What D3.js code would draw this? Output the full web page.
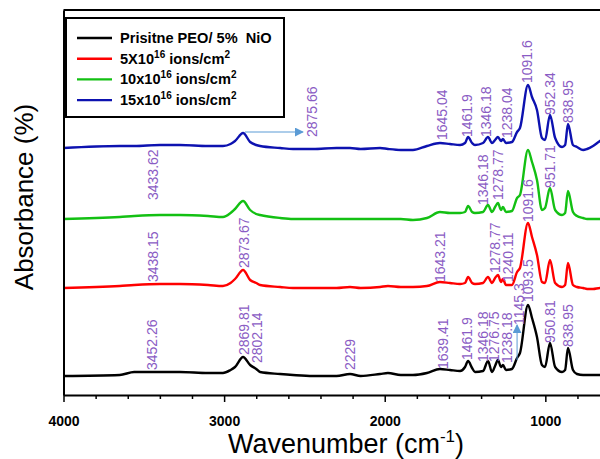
<!DOCTYPE html>
<html>
<head>
<meta charset="utf-8">
<script src="https://cdn.jsdelivr.net/npm/d3@7"></script>
<style>
body{margin:0;background:#fff;}
text{font-family:"Liberation Sans",Arial,sans-serif;}
</style>
</head>
<body>
<script>
// wavenumber grid shared by all four spectra (cm-1)
var wavenumbers = [4000,3650,3560,3400,3275,3100,3007,2960,2932,2882,2838,2800,2776,2651,2571,2447,2300,2216,2150,2029,
  1980,1900,1824,1737,1656,1594,1531,1500,1481,1456,1438,1388,1357,1332,1313,1295,1276,1264,1245,1208,
  1176,1158,1108,1083,1052,1021,1002,971,939,896,877,859,828,803,765,740,703,660,560];

var pristine = [0.19,0.20,0.23,0.23,0.23,0.22,0.22,0.25,0.28,0.38,0.30,0.26,0.23,0.21,0.20,0.19,0.19,0.21,0.19,0.21,
  0.22,0.20,0.20,0.22,0.26,0.25,0.24,0.28,0.34,0.27,0.23,0.24,0.34,0.23,0.29,0.35,0.28,0.30,0.25,0.26,
  0.37,0.42,0.90,0.77,0.58,0.30,0.28,0.52,0.28,0.23,0.25,0.47,0.25,0.21,0.20,0.20,0.20,0.20,0.20];
var dose5 = [1.07,1.09,1.10,1.11,1.11,1.10,1.09,1.12,1.16,1.25,1.15,1.12,1.10,1.08,1.07,1.07,1.07,1.08,1.07,1.08,
  1.09,1.08,1.08,1.09,1.13,1.12,1.11,1.12,1.18,1.12,1.11,1.12,1.18,1.12,1.17,1.20,1.13,1.16,1.10,1.10,
  1.23,1.27,1.72,1.58,1.40,1.13,1.12,1.35,1.12,1.08,1.10,1.32,1.10,1.08,1.07,1.06,1.06,1.07,1.07];
var dose10 = [1.76,1.78,1.79,1.80,1.80,1.79,1.78,1.82,1.86,1.94,1.85,1.81,1.80,1.77,1.76,1.76,1.76,1.76,1.76,1.76,
  1.76,1.76,1.75,1.77,1.83,1.82,1.82,1.83,1.89,1.83,1.82,1.83,1.90,1.83,1.88,1.92,1.85,1.88,1.83,1.84,
  1.97,2.00,2.45,2.33,2.15,1.85,1.87,2.07,1.85,1.80,1.82,2.04,1.83,1.79,1.77,1.76,1.76,1.76,1.76];
var dose15 = [2.47,2.49,2.49,2.50,2.50,2.49,2.49,2.51,2.54,2.62,2.53,2.50,2.49,2.47,2.46,2.46,2.47,2.47,2.46,2.47,
  2.46,2.45,2.45,2.49,2.52,2.51,2.50,2.52,2.58,2.52,2.50,2.52,2.58,2.52,2.55,2.58,2.54,2.56,2.52,2.53,
  2.63,2.67,3.10,2.98,2.85,2.57,2.55,2.80,2.57,2.48,2.50,2.71,2.50,2.48,2.45,2.46,2.49,2.54,2.60];

var seriesColors = ["#000000","#ff0000","#13c013","#0d12b0"];
// legend text: parts alternate normal / superscript
var legendText = [
  ["Prisitne PEO/ 5%\u00a0 NiO"],
  ["5X10","16"," ions/cm","2"],
  ["10x10","16"," ions/cm","2"],
  ["15x10","16"," ions/cm","2"]
];

var majorTicks = [4000,3000,2000,1000];
var minorTicks = [3800,3600,3400,3200,2800,2600,2400,2200,1800,1600,1400,1200,800,600];

// peak labels: [text, wavenumber position, absorbance at bottom of text]
var labelsPristine = [["3452.26",3449,0.25],["2869.81",2876,0.40],["2802.14",2795,0.32],["2229",2216,0.25],
  ["1639.41",1637,0.26],["1461.9",1487,0.35],["1346.18",1387,0.33],["1276.75",1320,0.33],["1238.18",1239,0.32],
  ["1145.3",1164,0.70],["1093.5",1108,0.93],["950.81",971,0.52],["838.95",859,0.48]];
var labels5 = [["3438.15",3443,1.13],["2873.67",2876,1.27],["1643.21",1656,1.13],["1278.77",1313,1.22],
  ["1240.11",1232,1.13],["1091.6",1108,1.73]];
var labels10 = [["3433.62",3443,1.95],["1346.18",1387,1.90],["1278.77",1295,1.95],["951.71",971,2.07]];
var labels15 = [["2875.66",2453,2.58],["1645.04",1643,2.55],["1461.9",1487,2.58],["1346.18",1369,2.58],
  ["1238.04",1239,2.57],["1091.6",1114,3.12],["952.34",971,2.80],["838.95",859,2.72]];
// arrows: [w1, a1, w2, a2]
var arrows = [[2870,2.63,2509,2.63],[1176,0.35,1176,0.70]];

var W = 600, H = 459;
var x = d3.scaleLinear().domain([4000,400]).range([63.5,641.7]);
var y = d3.scaleLinear().domain([0,3.85]).range([395,10]);

var svg = d3.select("body").append("svg").attr("width",W).attr("height",H);

svg.append("defs").append("marker")
  .attr("id","arr").attr("viewBox","0 0 10 10").attr("refX",9).attr("refY",5)
  .attr("markerWidth",9).attr("markerHeight",9).attr("orient","auto").attr("markerUnits","userSpaceOnUse")
  .append("path").attr("d","M0,0 L10,5 L0,10 Z").attr("fill","#5b9bd5");

var line = d3.line()
  .x(function(d){ return x(d[0]); })
  .y(function(d){ return y(d[1]); })
  .curve(d3.curveMonotoneX);

var allSeries = [pristine,dose5,dose10,dose15];
allSeries.forEach(function(vals,i){
  svg.append("path")
    .datum(wavenumbers.map(function(w,j){ return [w,vals[j]]; }))
    .attr("fill","none")
    .attr("stroke",seriesColors[i])
    .attr("stroke-width",2.4)
    .attr("stroke-linejoin","round")
    .attr("d",line);
});

// peak labels
var allLabels = [].concat(labelsPristine,labels5,labels10,labels15);
svg.selectAll("text.peak")
  .data(allLabels)
  .enter().append("text")
    .attr("class","peak")
    .attr("transform",function(d){ return "translate("+(x(d[1])+5)+","+y(d[2])+") rotate(-90)"; })
    .attr("font-size",14)
    .attr("fill","#8a5cc4")
    .text(function(d){ return d[0]; });

svg.selectAll("line.arrow")
  .data(arrows)
  .enter().append("line")
    .attr("class","arrow")
    .attr("x1",function(d){ return x(d[0]); })
    .attr("y1",function(d){ return y(d[1]); })
    .attr("x2",function(d){ return x(d[2]); })
    .attr("y2",function(d){ return y(d[3]); })
    .attr("stroke","#5b9bd5")
    .attr("stroke-width",1)
    .attr("marker-end","url(#arr)");

// axes
var xAxis = d3.axisBottom(x).tickValues(majorTicks).tickSize(7).tickSizeOuter(0).tickPadding(14).tickFormat(d3.format("d"));
var gx = svg.append("g").attr("transform","translate(0,395)").call(xAxis);
gx.select(".domain").attr("stroke-width",2);
gx.selectAll(".tick line").attr("stroke-width",1.5);
gx.selectAll(".tick text").attr("font-size",14).attr("font-weight","bold").attr("font-family","'Liberation Sans',Arial,sans-serif");

var gm = svg.append("g").attr("transform","translate(0,395)")
  .call(d3.axisBottom(x).tickValues(minorTicks).tickSize(4).tickSizeOuter(0).tickFormat(""));
gm.select(".domain").remove();
gm.selectAll(".tick line").attr("stroke-width",1.5);

var gy = svg.append("g").attr("transform","translate(63.5,0)")
  .call(d3.axisLeft(y).tickValues([]).tickSizeOuter(0));
gy.select(".domain").attr("stroke-width",2);

// top frame
svg.append("line").attr("x1",63.5).attr("x2",W).attr("y1",y(3.85)).attr("y2",y(3.85))
  .attr("stroke","#000").attr("stroke-width",2);

// axis titles
svg.append("text")
  .attr("transform","translate(33,197) rotate(-90)")
  .attr("text-anchor","middle")
  .attr("font-size",26)
  .text("Absorbance (%)");

var xt = svg.append("text")
  .attr("x",346).attr("y",453)
  .attr("text-anchor","middle")
  .attr("font-size",27);
xt.append("tspan").text("Wavenumber (cm");
xt.append("tspan").attr("font-size",17).attr("dy",-11).text("-1");
xt.append("tspan").attr("dy",11).text(")");

// legend
var lg = svg.append("g");
lg.append("rect").attr("x",66).attr("y",18).attr("width",218).attr("height",99)
  .attr("fill","#fff").attr("stroke","#000").attr("stroke-width",2);
legendText.forEach(function(parts,i){
  var ly = 38 + i*20.7;
  lg.append("line").attr("x1",77).attr("x2",112).attr("y1",ly).attr("y2",ly)
    .attr("stroke",seriesColors[i]).attr("stroke-width",2.4);
  var t = lg.append("text").attr("x",120).attr("y",ly+5)
    .attr("font-size",14.6).attr("font-weight","bold");
  parts.forEach(function(p,k){
    var sup = k % 2 === 1;
    t.append("tspan")
      .attr("font-size",sup ? 10 : 14.6)
      .attr("dy",k === 0 ? 0 : (sup ? -6 : 6))
      .text(p);
  });
});
</script>
</body>
</html>
